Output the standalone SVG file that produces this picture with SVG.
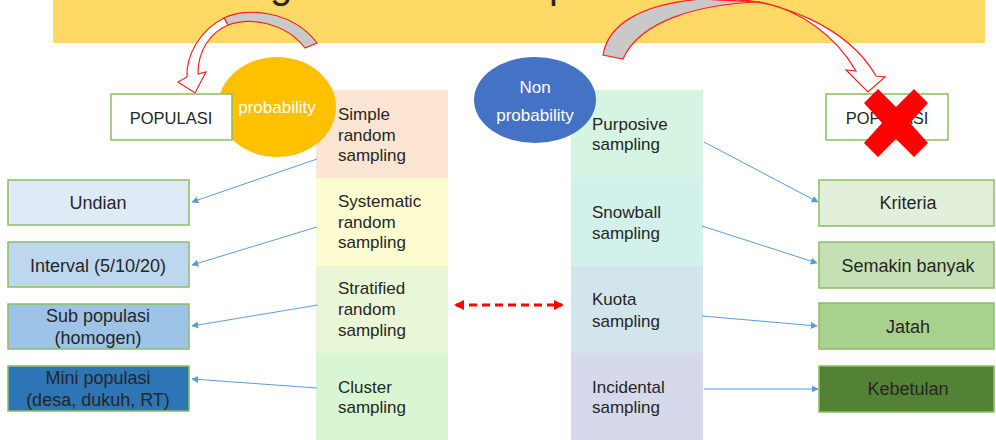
<svg xmlns="http://www.w3.org/2000/svg" width="996" height="440" viewBox="0 0 996 440">
<style>
.t{font-family:"Liberation Sans",Arial,sans-serif;fill:#262626}
.col{font-size:17px}
.side{font-size:18px;text-anchor:middle}
.pop{font-size:16.5px;text-anchor:middle}
.ell{font-family:"Liberation Sans",Arial,sans-serif;font-size:17px;fill:#ffffff;text-anchor:middle}
.box{stroke:#8CBD63;stroke-width:1.5}
.conn{stroke:#5B9BD5;stroke-width:1;fill:none}
.curve{stroke:#FF2020;stroke-width:1.2}
</style>
<defs>
<marker id="ab" viewBox="0 0 10 10" refX="9" refY="5" markerWidth="7" markerHeight="7" markerUnits="userSpaceOnUse" orient="auto">
<path d="M0,0 L10,5 L0,10 Z" fill="#5B9BD5"/>
</marker>
<marker id="ar" viewBox="0 0 10 10" refX="8" refY="5" markerWidth="10" markerHeight="10" markerUnits="userSpaceOnUse" orient="auto-start-reverse">
<path d="M0,0 L10,5 L0,10 Z" fill="#FF0000"/>
</marker>
</defs>

<g id="banner">
<rect x="53" y="0" width="932" height="43" fill="#FFD966"/>
<text class="t" font-size="40" y="-2"><tspan x="270">g</tspan><tspan x="549">p</tspan></text>
</g>

<g id="col-probability">
<g id="simple"><rect x="316" y="90" width="132" height="88" fill="#FCE6D3"/></g>
<g id="systematic"><rect x="316" y="178" width="132" height="88" fill="#FEFDD2"/></g>
<g id="stratified"><rect x="316" y="266" width="132" height="87" fill="#EAF7D6"/></g>
<g id="cluster"><rect x="316" y="353" width="132" height="87" fill="#D9F6D3"/></g>
</g>
<g id="col-nonprobability">
<g id="purposive"><rect x="571" y="90" width="132" height="88" fill="#D5F4E2"/></g>
<g id="snowball"><rect x="571" y="178" width="132" height="88" fill="#D2F1EA"/></g>
<g id="kuota"><rect x="571" y="266" width="132" height="87" fill="#D2E5EC"/></g>
<g id="incidental"><rect x="571" y="353" width="132" height="87" fill="#D5D9EB"/></g>
</g>

<g id="probability">
<ellipse cx="277" cy="107" rx="59" ry="50" fill="#FFC000"/>
<text class="ell" x="277" y="113">probability</text>
</g>
<g id="nonprobability">
<ellipse cx="535" cy="100" rx="61" ry="43" fill="#4472C4"/>
<text class="ell" x="535" y="93">Non</text>
<text class="ell" x="535" y="121">probability</text>
</g>

<g id="populasi-left">
<rect class="box" x="111" y="94" width="121" height="46" fill="#ffffff"/>
<text class="t pop" x="171" y="124">POPULASI</text>
</g>
<g id="populasi-right">
<rect class="box" x="826" y="94" width="122" height="46" fill="#ffffff"/>
<text class="t pop" x="887" y="124">POPULASI</text>
</g>

<g id="col-texts">
<text class="t col" x="338" y="120">Simple</text>
<text class="t col" x="338" y="141">random</text>
<text class="t col" x="338" y="161">sampling</text>
<text class="t col" x="338" y="207">Systematic</text>
<text class="t col" x="338" y="228">random</text>
<text class="t col" x="338" y="248">sampling</text>
<text class="t col" x="338" y="294">Stratified</text>
<text class="t col" x="338" y="315">random</text>
<text class="t col" x="338" y="336">sampling</text>
<text class="t col" x="338" y="393">Cluster</text>
<text class="t col" x="338" y="413">sampling</text>
<text class="t col" x="592" y="130">Purposive</text>
<text class="t col" x="592" y="150">sampling</text>
<text class="t col" x="592" y="218">Snowball</text>
<text class="t col" x="592" y="239">sampling</text>
<text class="t col" x="592" y="305">Kuota</text>
<text class="t col" x="592" y="327">sampling</text>
<text class="t col" x="592" y="393">Incidental</text>
<text class="t col" x="592" y="413">sampling</text>
</g>

<g id="undian"><rect class="box" x="8" y="180" width="181" height="45" fill="#DEEBF7"/><text class="t side" x="98" y="209">Undian</text></g>
<g id="interval"><rect class="box" x="8" y="242" width="181" height="45" fill="#BDD7EE"/><text class="t side" x="98" y="272">Interval (5/10/20)</text></g>
<g id="subpopulasi"><rect class="box" x="8" y="304" width="181" height="45" fill="#9DC3E6"/><text class="t side" x="98" y="322">Sub populasi</text><text class="t side" x="98" y="344">(homogen)</text></g>
<g id="minipopulasi"><rect class="box" x="8" y="366" width="181" height="45" fill="#2E75B6"/><text class="t side" x="98" y="384">Mini populasi</text><text class="t side" x="98" y="406">(desa, dukuh, RT)</text></g>

<g id="kriteria"><rect class="box" x="819" y="180" width="175" height="46" fill="#E2EFDA"/><text class="t side" x="908" y="209">Kriteria</text></g>
<g id="semakin"><rect class="box" x="819" y="242" width="175" height="46" fill="#C5E0B4"/><text class="t side" x="908" y="272">Semakin banyak</text></g>
<g id="jatah"><rect class="box" x="819" y="303" width="175" height="46" fill="#A9D18E"/><text class="t side" x="908" y="333">Jatah</text></g>
<g id="kebetulan"><rect class="box" x="819" y="366" width="175" height="46" fill="#548235"/><text class="t side" x="908" y="395">Kebetulan</text></g>

<g id="curved-arrows">
<path class="curve" fill="#C9C9C9" d="M224,18 C245,7 292,10 317,43 L305,48 C285,22 250,17 228,25 Z"/>
<path class="curve" fill="#ffffff" d="M224,18 C200,30 186,55 187,77 L178,82 L195,93 L206,72 L198,74 C198,50 210,33 228,25 Z"/>
<path class="curve" fill="#C9C9C9" d="M603,55 C608,25 640,4 702,-1 L760,2 C700,4 640,20 623,59 Z"/>
<path class="curve" fill="#ffffff" d="M702,-1 C780,-6 850,30 876,76 L885,77 L868,92 L846,70 L856,71 C835,35 800,10 760,2 Z"/>
</g>

<g id="connectors">
<line class="conn" x1="317" y1="159" x2="192" y2="202" marker-end="url(#ab)"/>
<line class="conn" x1="317" y1="227" x2="192" y2="265" marker-end="url(#ab)"/>
<line class="conn" x1="318" y1="305" x2="192" y2="326" marker-end="url(#ab)"/>
<line class="conn" x1="317" y1="388" x2="192" y2="379" marker-end="url(#ab)"/>
<line class="conn" x1="704" y1="142" x2="818" y2="202" marker-end="url(#ab)"/>
<line class="conn" x1="702" y1="226" x2="817" y2="263" marker-end="url(#ab)"/>
<line class="conn" x1="702" y1="316" x2="817" y2="326" marker-end="url(#ab)"/>
<line class="conn" x1="704" y1="389" x2="818" y2="389" marker-end="url(#ab)"/>
<line x1="456" y1="305" x2="562" y2="305" stroke="#FF0000" stroke-width="3" stroke-dasharray="8,5" marker-start="url(#ar)" marker-end="url(#ar)"/>
</g>

<g id="cross">
<polygon fill="#FF0000" points="878,89 896,107 914,89 928,103 910,123 928,143 914,157 896,139 878,157 864,143 882,123 864,103"/>
</g>
</svg>
